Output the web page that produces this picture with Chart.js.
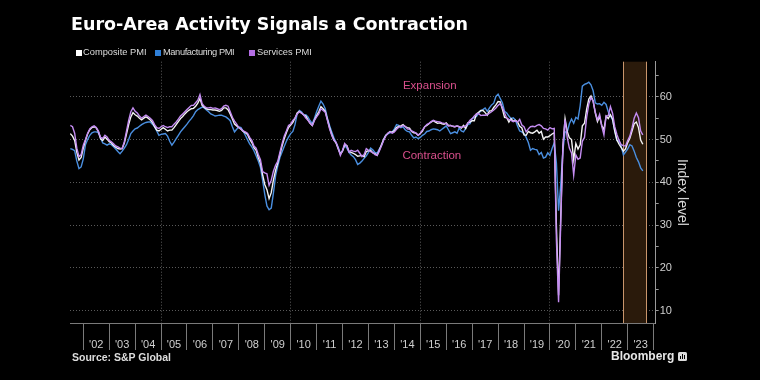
<!DOCTYPE html>
<html><head><meta charset="utf-8">
<script src="https://cdn.jsdelivr.net/npm/chart.js@4.4.0/dist/chart.umd.min.js"></script>
<style>
html,body{margin:0;padding:0;background:#000;width:760px;height:380px;overflow:hidden}
#wrap{position:relative;width:760px;height:380px;background:#000}
#c{position:absolute;left:0;top:0}
.t{position:absolute;white-space:nowrap;font-family:"Liberation Sans",Arial,sans-serif}
#title{left:71px;top:14px;font-family:"DejaVu Sans",sans-serif;font-weight:bold;font-size:17.5px;color:#fff}
.lg{font-size:9.3px;color:#ddd;top:47.3px}
.sq{position:absolute;width:6px;height:6px;top:50px}
#src{left:72px;top:351px;font-weight:bold;font-size:10.5px;color:#ddd}
#bb{left:611px;top:349px;font-weight:bold;font-size:12px;color:#e6e6e6}
#logo{position:absolute;left:678px;top:352px;width:9px;height:9px}
</style></head>
<body><div id="wrap">
<canvas id="c" width="760" height="380"></canvas>
<div id="title" class="t">Euro-Area Activity Signals a Contraction</div>
<div class="sq" style="left:76px;background:#ffffff"></div><div class="t lg" style="left:83px">Composite PMI</div>
<div class="sq" style="left:155px;background:#2f7fd8"></div><div class="t lg" style="left:163px;letter-spacing:-0.4px">Manufacturing PMI</div>
<div class="sq" style="left:249px;background:#b46ee4"></div><div class="t lg" style="left:257px">Services PMI</div>
<div id="src" class="t">Source: S&amp;P Global</div>
<div id="bb" class="t">Bloomberg</div>
<svg id="logo" viewBox="0 0 9 9"><rect x="0" y="0" width="9" height="9" rx="1.5" fill="#ddd"/><rect x="2" y="4" width="1" height="3" fill="#000"/><rect x="4" y="2" width="1" height="5" fill="#000"/><rect x="6" y="3" width="1" height="4" fill="#000"/></svg>
</div>
<script>
// Monthly series, first value = June 2001, last = July 2023
const startYear = 2001;
const startMonth = 6;
const seriesNames = ['Composite PMI', 'Manufacturing PMI', 'Services PMI'];
const yearLabels = ["'02","'03","'04","'05","'06","'07","'08","'09","'10","'11","'12","'13","'14","'15","'16","'17","'18","'19","'20","'21","'22","'23"];
const annotationTexts = ['Expansion', 'Contraction'];

const composite = [
 51.4,50.8,49.8,47.0,45.2,45.8,48.0,
 49.8,51.3,52.3,52.8,53.0,52.7,51.8,50.2,49.8,50.6,50.1,49.5,
 49.2,48.6,48.2,47.9,47.8,47.9,49.2,51.3,53.5,55.3,56.3,55.8,
 55.5,55.0,54.6,55.0,55.3,55.0,54.6,54.0,53.0,52.2,52.0,52.4,
 52.8,52.4,52.0,52.2,52.2,52.8,53.5,54.2,54.9,55.4,56.0,56.5,
 56.9,57.2,57.3,57.8,58.5,59.6,58.0,57.5,57.2,57.0,57.0,56.9,
 56.9,56.8,56.6,56.8,57.4,57.4,57.0,56.0,54.8,53.6,53.2,52.8,
 52.4,51.9,51.6,51.2,50.1,49.3,48.1,47.5,45.8,44.5,41.8,39.5,
 38.3,36.2,37.6,40.5,42.8,44.5,46.5,48.5,50.2,51.6,52.8,53.4,
 54.0,55.0,56.2,56.6,56.2,55.8,55.5,54.6,53.8,53.3,54.6,55.6,
 56.5,57.7,57.2,56.6,54.7,52.8,51.2,49.9,49.2,47.8,46.6,47.3,
 48.8,48.6,47.2,47.0,46.8,46.5,46.1,46.2,46.3,46.0,47.2,47.4,
 47.5,46.9,46.7,46.3,47.5,48.8,50.0,51.0,51.5,51.9,51.7,52.1,
 52.8,53.1,53.2,53.5,53.0,52.8,52.7,51.9,51.6,51.5,51.0,51.4,
 52.0,53.0,53.3,53.7,54.1,54.4,54.1,53.8,53.9,53.7,53.6,53.9,
 53.3,53.3,53.1,53.0,53.2,53.0,52.7,53.3,52.6,53.9,54.1,54.4,
 54.4,56.0,56.4,56.8,56.8,56.3,55.7,56.7,56.7,57.5,58.1,58.9,
 58.8,57.1,55.2,55.1,54.1,54.9,54.3,54.5,54.1,53.1,52.7,51.1,
 51.0,51.9,51.6,51.5,51.8,52.2,51.5,51.9,50.1,50.6,50.6,50.9,
 51.3,51.6,29.7,13.6,31.9,48.5,54.9,51.9,50.4,50.0,45.3,49.1,
 47.8,48.8,53.2,53.8,57.1,59.5,60.2,59.0,56.2,54.2,55.4,53.3,
 52.3,55.5,54.9,55.8,54.8,52.0,49.9,48.9,48.1,47.3,47.8,49.3,
 50.3,52.0,53.7,54.1,52.8,49.9,48.9
];
const manufacturing = [
 47.9,47.7,47.4,45.0,43.2,43.6,45.5,
 48.8,50.0,51.0,51.6,51.8,51.8,51.6,50.4,49.2,49.0,48.7,49.0,
 48.8,48.3,47.8,47.2,46.7,47.3,48.0,48.8,50.0,51.4,52.0,52.5,
 52.7,53.1,53.5,53.8,54.0,54.1,54.1,53.6,53.0,52.0,51.0,51.2,
 51.3,51.4,50.8,49.6,48.7,49.4,50.2,51.0,51.8,52.4,53.0,53.6,
 54.3,54.9,55.6,56.5,57.0,57.3,57.6,57.4,56.9,56.5,56.0,55.8,
 55.5,55.6,55.7,55.7,55.5,55.3,54.9,54.4,53.0,51.8,52.4,53.0,
 52.8,52.0,51.0,50.0,49.0,48.3,47.4,46.2,45.0,43.5,40.5,37.2,
 34.5,33.6,34.0,37.5,41.5,43.8,45.8,47.1,48.4,49.6,50.6,51.4,
 51.9,53.5,56.0,56.8,56.5,55.7,55.8,55.3,54.4,53.7,55.0,56.5,
 57.8,59.0,58.3,57.2,55.0,53.3,51.8,50.4,49.3,48.2,46.7,47.4,
 48.6,48.0,47.0,46.4,46.0,45.3,44.2,44.5,45.0,45.6,46.2,47.0,
 48.0,47.6,47.0,46.8,47.8,48.6,50.0,51.0,51.3,51.6,51.8,52.5,
 53.5,53.3,52.8,53.0,52.3,51.9,51.8,51.0,50.4,50.6,50.2,50.5,
 51.0,51.3,51.9,52.0,52.3,52.5,52.4,52.3,52.0,52.4,52.8,53.2,
 52.3,51.4,51.6,51.8,51.5,52.7,52.0,51.8,52.6,53.5,53.7,54.9,
 55.2,55.4,56.2,56.7,57.0,57.4,56.6,57.4,58.1,58.5,60.1,60.6,
 59.6,58.6,56.6,56.2,55.5,54.9,55.1,54.6,53.2,52.0,51.8,51.4,
 50.5,49.3,47.5,47.9,47.7,47.6,46.5,47.0,45.7,45.9,46.9,46.3,
 47.9,49.2,44.5,33.4,39.4,47.4,51.8,51.7,53.7,54.8,53.8,55.2,
 54.8,57.9,62.5,62.9,63.1,63.4,62.8,61.4,58.6,58.3,58.4,58.0,
 58.7,58.2,56.5,55.5,54.6,52.1,49.8,49.6,48.4,46.4,47.1,47.8,
 48.8,48.5,47.3,45.8,44.8,43.4,42.7
];
const services = [
 53.3,53.0,51.5,48.0,46.0,46.5,48.7,
 50.0,51.5,52.5,53.0,53.2,52.8,52.0,50.5,50.3,51.0,50.6,49.8,
 49.5,49.0,48.5,48.3,48.0,47.9,49.5,52.0,54.5,56.5,57.4,56.6,
 56.2,55.5,55.0,55.4,55.7,55.4,55.0,54.5,53.5,52.8,52.6,53.0,
 53.3,53.0,52.8,53.0,53.0,53.6,54.1,54.8,55.5,56.0,56.5,57.0,
 57.5,58.0,58.0,58.6,59.2,60.5,58.4,57.8,57.4,57.4,57.5,57.3,
 57.4,57.2,57.0,57.2,57.8,58.0,57.8,56.5,55.2,54.3,53.6,52.8,
 52.5,52.0,51.8,51.5,50.5,49.8,48.5,48.0,46.5,45.3,42.5,42.2,
 42.0,39.3,40.5,42.6,44.0,44.9,47.0,49.0,50.8,52.0,53.3,53.6,
 54.5,55.0,56.0,56.5,56.2,55.8,55.0,54.5,53.8,53.3,54.5,55.3,
 56.0,57.2,56.8,56.4,54.5,52.5,51.0,49.8,49.4,48.0,46.3,47.5,
 49.1,48.5,47.1,47.5,47.3,47.2,47.5,46.8,46.0,46.5,47.9,47.5,
 47.2,47.0,46.5,46.3,47.3,48.5,49.8,50.8,51.5,51.8,51.5,51.8,
 52.4,52.9,53.0,53.3,53.1,52.5,52.4,52.0,51.8,51.5,51.0,51.5,
 52.2,52.9,53.5,53.8,54.2,54.5,54.3,54.2,54.1,53.9,53.8,53.7,
 53.2,53.3,53.1,53.0,53.2,53.0,52.9,53.0,53.2,53.8,54.5,54.9,
 55.5,56.0,56.1,55.6,55.7,55.7,55.8,56.2,56.5,56.9,57.4,58.0,
 58.4,57.5,56.2,55.0,54.7,54.5,54.2,54.4,54.1,54.7,53.4,53.0,
 51.8,52.5,53.0,53.1,53.0,53.3,53.5,53.2,52.6,52.5,52.2,52.8,
 52.5,52.6,26.4,12.0,30.5,48.3,54.7,50.5,48.0,46.9,41.7,46.4,
 45.4,45.7,49.6,50.5,55.2,58.3,59.8,59.0,56.4,54.6,55.9,53.1,
 51.1,55.5,55.6,57.7,56.1,53.0,51.2,49.8,48.8,48.6,48.5,49.8,
 50.8,52.7,55.0,56.2,55.1,52.0,51.1
];

function toPoints(arr){
  return arr.map((v,i)=>({x: startYear + (startMonth + i)/12, y: v}));
}

const shadePlugin = {
  id: 'shade',
  beforeDatasetsDraw(chart){
    const {ctx, chartArea:a, scales:{x}} = chart;
    const x1 = x.getPixelForValue(2022.83), x2 = x.getPixelForValue(2023.74);
    ctx.save();
    ctx.fillStyle = '#2a1a0b';
    ctx.fillRect(x1, a.top, x2-x1, a.bottom-a.top);
    ctx.strokeStyle = '#c8956c';
    ctx.lineWidth = 1;
    ctx.beginPath();
    ctx.moveTo(Math.round(x1)+0.5, a.top); ctx.lineTo(Math.round(x1)+0.5, a.bottom);
    ctx.moveTo(Math.round(x2)-0.5, a.top); ctx.lineTo(Math.round(x2)-0.5, a.bottom);
    ctx.stroke();
    ctx.restore();
  },
  afterDatasetsDraw(chart){
    const {ctx, scales:{x,y}} = chart;
    ctx.save();
    ctx.fillStyle = '#d94f8c';
    ctx.font = '11.5px "Liberation Sans", Arial, sans-serif';
    ctx.textBaseline = 'middle';
    ctx.textAlign = 'left';
    ctx.fillText(annotationTexts[0], x.getPixelForValue(2014.33), y.getPixelForValue(62.5));
    ctx.fillText(annotationTexts[1], x.getPixelForValue(2014.31), y.getPixelForValue(46.2));
    ctx.restore();
  }
};

new Chart(document.getElementById('c'), {
  type: 'line',
  data: {
    datasets: [
      {label: seriesNames[2], data: toPoints(services), borderColor: '#c48cf2'},
      {label: seriesNames[0], data: toPoints(composite), borderColor: '#f4f4f4'},
      {label: seriesNames[1], data: toPoints(manufacturing), borderColor: '#4a8fe0'}
    ]
  },
  options: {
    responsive: false,
    animation: false,
    devicePixelRatio: 1,
    layout: {padding: {left: 70, top: 61.7, right: 66, bottom: 0}},
    plugins: {legend: {display: false}, tooltip: {enabled: false}, title: {display: false}},
    elements: {point: {radius: 0}, line: {borderWidth: 1.4, tension: 0}},
    scales: {
      x: {
        type: 'linear', position: 'bottom',
        min: 2001.487, max: 2024.08,
        afterBuildTicks(s){
          const t = [];
          for (let yr = 2002; yr <= 2024; yr++){
            t.push({value: yr});
            if (yr < 2024) t.push({value: yr + 0.5});
          }
          s.ticks = t;
        },
        afterFit(s){ s.height = 57; },
        ticks: {
          autoSkip: false, maxRotation: 0, minRotation: 0,
          color: '#cfcfcf', padding: -12,
          font: {family: '"Liberation Sans", Arial, sans-serif', size: 11},
          callback(v){
            const k = Math.round(v*2);
            return (k % 2 === 1) ? yearLabels[Math.floor(v) - 2002] : '';
          }
        },
        grid: {
          drawOnChartArea: true, drawTicks: true, tickLength: 27,
          color(ctx){
            const v = ctx.tick && ctx.tick.value;
            return (Number.isInteger(v) && v % 5 === 0 && v < 2024) ? '#5a5a5a' : 'rgba(0,0,0,0)';
          },
          tickColor(ctx){
            const v = ctx.tick && ctx.tick.value;
            return Number.isInteger(v) ? '#7a7a7a' : 'rgba(0,0,0,0)';
          },
          lineWidth: 1
        },
        border: {display: true, color: '#7a7a7a', width: 1, dash: [1, 2]}
      },
      y: {
        position: 'right',
        min: 7.13, max: 68.2,
        afterBuildTicks(s){
          const t = [];
          for (let v = 10; v <= 65; v += 5) t.push({value: v});
          s.ticks = t;
        },
        afterFit(s){ s.width = 38.3; },
        ticks: {
          color: '#cfcfcf', padding: 1,
          font: {family: '"Liberation Sans", Arial, sans-serif', size: 11},
          callback(v){ return v % 10 === 0 ? String(v) : ''; }
        },
        grid: {
          drawTicks: true, tickLength: 3,
          color(ctx){
            const v = ctx.tick && ctx.tick.value;
            return (v % 10 === 0) ? '#5a5a5a' : 'rgba(0,0,0,0)';
          },
          tickColor: '#9a9a9a'
        },
        border: {display: true, color: '#9a9a9a', width: 1, dash: [1, 2]},
        title: {
          display: true, text: 'Index level', color: '#d6d6d6',
          font: {family: '"Liberation Sans", Arial, sans-serif', size: 14}
        }
      }
    }
  },
  plugins: [shadePlugin]
});
</script>
</body></html>
